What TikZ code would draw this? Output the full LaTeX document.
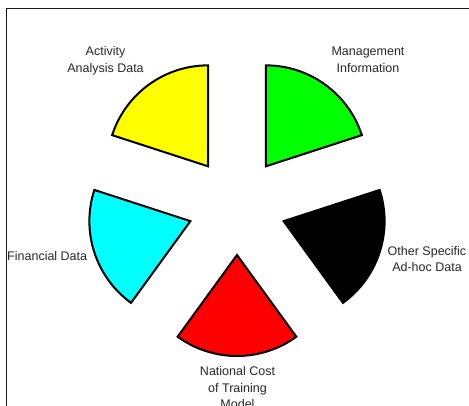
\documentclass[tikz,border=0pt]{standalone}
\usepackage{fontspec}
\setmainfont{Liberation Sans}
\definecolor{pyellow}{RGB}{255,255,0}
\definecolor{pgreen}{RGB}{0,255,0}
\definecolor{pcyan}{RGB}{0,255,255}
\definecolor{pred}{RGB}{255,0,0}
\definecolor{pblack}{RGB}{0,0,0}
\begin{document}
\begin{tikzpicture}[x=1pt,y=1pt,
  slice/.style={draw=black,line width=2pt,line join=miter},
  lbl/.style={inner sep=0pt,align=center,text=black!85,font=\fontsize{12.5pt}{16.6pt}\selectfont},
  frameline/.style={draw=black!90,line width=1pt}]
\useasboundingbox (-237,-199) rectangle (232,206);
% outer frame (top and left edges visible)
\coordinate (ftr) at (240,197.7);
\coordinate (ftl) at (-230.3,197.7);
\coordinate (fbl) at (-230.3,-210);
\draw[frameline] (ftr) -- (ftl) -- (fbl);
% pie slices: exploded 72-degree wedges
\def\dd{49}\def\rr{101}
\foreach \b/\c/\n in {126/pyellow/sy, 54/pgreen/sg, -18/pblack/sb, -90/pred/sr, 198/pcyan/sc}{
  \coordinate (\n) at (\b:\dd);
  \filldraw[slice,fill=\c] (\n) -- ++(\b-36:\rr) arc[start angle=\b-36, end angle=\b+36, radius=\rr] -- cycle;
}
% labels
\node[lbl] (lact) at (-131.5,145) {Activity\\Analysis Data};
\node[lbl] (lman) at (131,146.2) {Management\\Information};
\node[lbl] (lfin) at (-189.8,-50.5) {Financial Data};
\node[lbl] (loth) at (190,-53) {Other Specific\\Ad-hoc Data};
\node[lbl] (lnat) at (0.5,-181.9) {National Cost\\of Training\\Model};
\end{tikzpicture}
\end{document}
